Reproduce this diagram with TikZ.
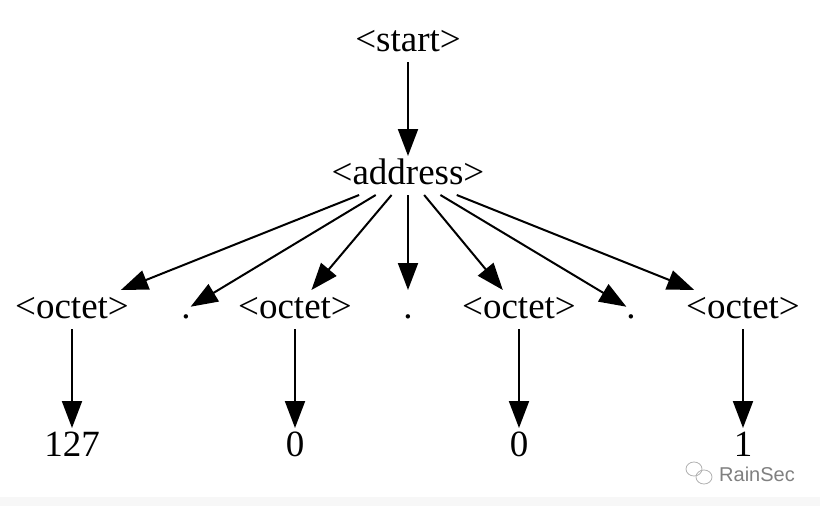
\documentclass[tikz,border=0pt]{standalone}
\usepackage{fontspec}
\setmainfont{Liberation Serif}
\newfontfamily\wmfont{Liberation Sans}
\usetikzlibrary{arrows.meta}
\begin{document}
\begin{tikzpicture}[x=1pt,y=-1pt,
  lbl/.style={inner sep=0pt, outer sep=0pt, anchor=base, text height=28pt, text depth=11pt, font=\fontsize{37}{42}\selectfont},
  arr/.style={line width=2pt, -{Triangle[length=27pt,width=20pt]}},
  wm/.style={draw=black!30, line width=0.8pt}]
\useasboundingbox (0,0) rectangle (820,506);
\fill[white] (0,0) rectangle (820,506);
\fill[black!3] (0,497) rectangle (820,506);

\node[lbl] (start) at (408,51) {\textless start\textgreater};
\node[lbl] (addr) at (408,184) {\textless address\textgreater};

\node[lbl] (o1) at (72,318) {\textless octet\textgreater};
\node[lbl] (d1) at (186,318) {.};
\node[lbl] (o2) at (295,318) {\textless octet\textgreater};
\node[lbl] (d2) at (408,318) {.};
\node[lbl] (o3) at (519,318) {\textless octet\textgreater};
\node[lbl] (d3) at (631,318) {.};
\node[lbl] (o4) at (743,318) {\textless octet\textgreater};

\node[lbl] (n1) at (72,456) {127};
\node[lbl] (n2) at (295,456) {0};
\node[lbl] (n3) at (519,456) {0};
\node[lbl] (n4) at (743,456) {1};

\draw[arr] (start) -- (addr);
\foreach \t in {o1,d1,o2,d2,o3,d3,o4} {\draw[arr] (addr) -- (\t);}
\draw[arr] (o1) -- (n1);
\draw[arr] (o2) -- (n2);
\draw[arr] (o3) -- (n3);
\draw[arr] (o4) -- (n4);

% watermark
\draw[wm] (694,469) ellipse (8 and 7);
\draw[wm] (704,477) ellipse (8 and 7);
\node[anchor=west, inner sep=0pt, text=black!50, font=\wmfont\fontsize{20}{22}\selectfont] (wmtext) at (719,474) {RainSec};
\end{tikzpicture}
\end{document}
